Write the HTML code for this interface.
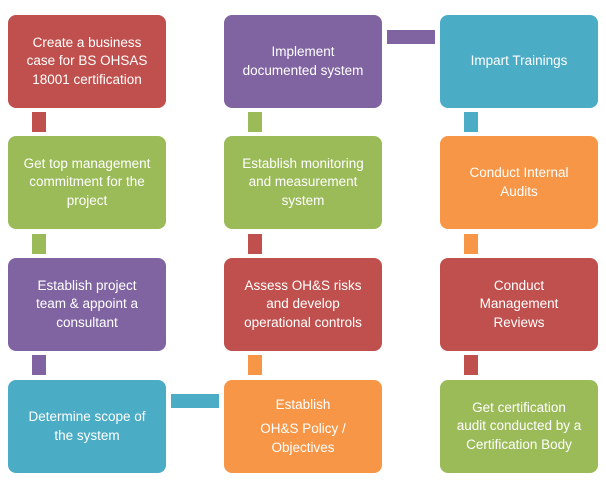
<!DOCTYPE html><html><head><style>
body{margin:0;width:606px;height:483px;background:#fff;position:relative;overflow:hidden;font-family:"Liberation Sans",sans-serif}
.b{position:absolute;width:158px;height:93px;border-radius:8px;color:#fff;display:flex;flex-direction:column;align-items:center;justify-content:center;text-align:center;font-size:13.5px;line-height:18.5px;box-sizing:border-box;padding:0 4px}
.c{position:absolute}
.r{background:#C0504D}.g{background:#9BBB59}.p{background:#8064A2}.t{background:#4BACC6}.o{background:#F79646}
</style></head><body>
<div class="b r" style="left:8px;top:15px">Create a business<br>case for BS OHSAS<br>18001 certification</div>
<div class="b g" style="left:8px;top:136px">Get top management<br>commitment for the<br>project</div>
<div class="b p" style="left:8px;top:258px">Establish project<br>team &amp; appoint a<br>consultant</div>
<div class="b t" style="left:8px;top:380px">Determine scope of<br>the system</div>
<div class="b p" style="left:224px;top:15px">Implement<br>documented system</div>
<div class="b g" style="left:224px;top:136px">Establish monitoring<br>and measurement<br>system</div>
<div class="b r" style="left:224px;top:258px">Assess OH&amp;S risks<br>and develop<br>operational controls</div>
<div class="b o" style="left:224px;top:380px"><div>Establish</div><div style="height:6px"></div><div>OH&amp;S Policy /</div><div>Objectives</div></div>
<div class="b t" style="left:440px;top:15px">Impart Trainings</div>
<div class="b o" style="left:440px;top:136px">Conduct Internal<br>Audits</div>
<div class="b r" style="left:440px;top:258px">Conduct<br>Management<br>Reviews</div>
<div class="b g" style="left:440px;top:380px">Get certification<br>audit conducted by a<br>Certification Body</div>
<div class="c r" style="left:32px;top:112px;width:14px;height:20px"></div>
<div class="c g" style="left:32px;top:234px;width:14px;height:20px"></div>
<div class="c p" style="left:32px;top:355px;width:14px;height:20px"></div>
<div class="c g" style="left:248px;top:112px;width:14px;height:20px"></div>
<div class="c r" style="left:248px;top:234px;width:14px;height:20px"></div>
<div class="c o" style="left:248px;top:355px;width:14px;height:20px"></div>
<div class="c t" style="left:464px;top:112px;width:14px;height:20px"></div>
<div class="c o" style="left:464px;top:234px;width:14px;height:20px"></div>
<div class="c r" style="left:464px;top:355px;width:14px;height:20px"></div>
<div class="c p" style="left:387px;top:30px;width:48px;height:14px"></div>
<div class="c t" style="left:171px;top:394px;width:48px;height:14px"></div>
</body></html>
